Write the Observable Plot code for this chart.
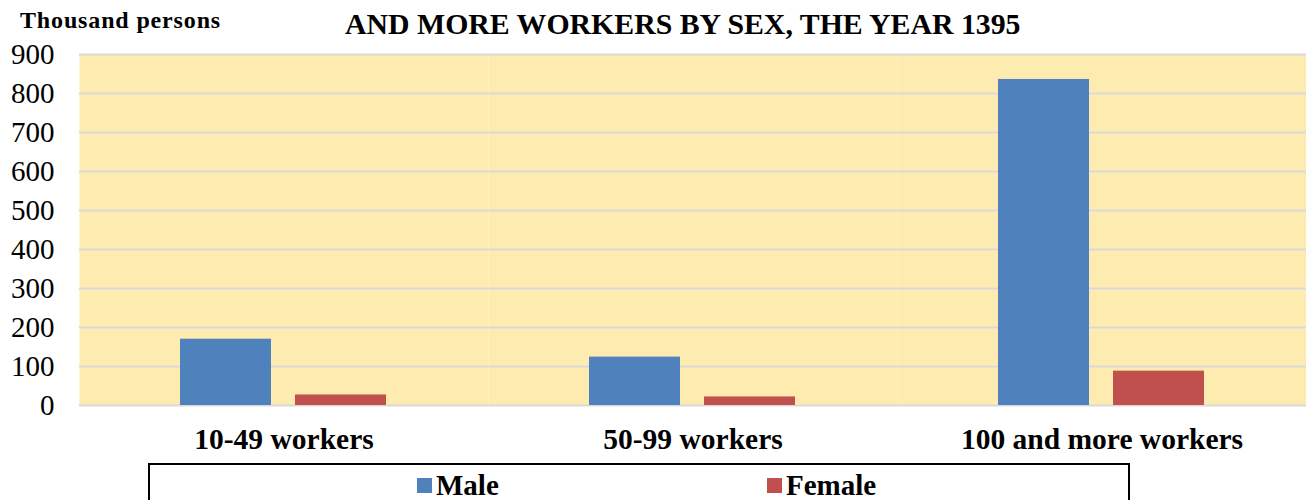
<!DOCTYPE html>
<html>
<head>
<meta charset="utf-8">
<script src="https://cdn.jsdelivr.net/npm/d3@7"></script>
<script src="https://cdn.jsdelivr.net/npm/@observablehq/plot@0.6"></script>
<style>
  html, body { margin: 0; padding: 0; background: #fff; width: 1306px; height: 500px; overflow: hidden; }
  body { font-family: "Liberation Serif", "Times New Roman", serif; color: #000; }
  #header { position: relative; height: 38px; }
  #unit { position: absolute; left: 20px; top: 7px; font-size: 24px; font-weight: bold; letter-spacing: 0.85px; white-space: nowrap; }
  #title { position: absolute; left: 345px; top: 7px; font-size: 29.8px; font-weight: bold; white-space: nowrap; }
  #chart svg { display: block; }
  #legend { position: absolute; left: 148px; top: 463px; width: 982px; height: 60px; border: 2px solid #000; box-sizing: border-box; }
  .item { position: absolute; top: 4px; display: flex; align-items: center; font-size: 29px; font-weight: bold; }
  .sw { width: 15px; height: 15px; margin-right: 4px; }
</style>
</head>
<body>
<div id="header">
  <div id="unit">Thousand persons</div>
  <div id="title">AND MORE WORKERS BY SEX, THE YEAR 1395</div>
</div>
<div id="chart"></div>
<div id="legend"></div>
<script>
const categories = ["10-49 workers", "50-99 workers", "100 and more workers"];
const sexes = ["Male", "Female"];
const male = [170, 124, 836];
const female = [27, 22, 88];
const yTicks = [0, 100, 200, 300, 400, 500, 600, 700, 800, 900];
const colors = ["#4F81BD", "#C0504D"];
const serif = "Liberation Serif";

const data = categories.flatMap((c, i) => [
  {category: c, sex: "Male", value: male[i]},
  {category: c, sex: "Female", value: female[i]}
]);

const chart = Plot.plot({
  width: 1306,
  height: 420,
  marginLeft: 78,
  marginRight: 0,
  marginTop: 16,
  marginBottom: 53,
  style: {background: "transparent", color: "#000"},
  fx: {domain: categories, padding: 0, label: null},
  x: {domain: sexes, paddingInner: 0.207, paddingOuter: 0.868, axis: null},
  y: {domain: [0, 900], axis: null},
  color: {domain: sexes, range: colors},
  marks: [
    Plot.frame({fill: "#FEEBB0", stroke: null}),
    Plot.ruleY(yTicks, {stroke: "#D9D9D9", strokeWidth: 2, strokeOpacity: 1}),
    Plot.barY(data, {fx: "category", x: "sex", y: "value", fill: "sex"}),
    Plot.axisY({ticks: yTicks, tickSize: 0, tickPadding: 25, fontSize: 29, fontFamily: serif, label: null, fill: "#000"}),
    Plot.axisFx({anchor: "bottom", tickSize: 0, tickPadding: 23, fontSize: 29.5, fontFamily: serif, fontWeight: "bold", label: null, fill: "#000"})
  ]
});
d3.select(chart).selectAll("text").style("font-family", "'Liberation Serif', 'Times New Roman', serif");
document.getElementById("chart").appendChild(chart);

const legend = document.getElementById("legend");
const offsets = [267, 617];
sexes.forEach((s, i) => {
  const it = document.createElement("div");
  it.className = "item";
  it.style.left = offsets[i] + "px";
  const sw = document.createElement("span");
  sw.className = "sw";
  sw.style.background = colors[i];
  const t = document.createElement("span");
  t.textContent = s;
  it.appendChild(sw);
  it.appendChild(t);
  legend.appendChild(it);
});
</script>
</body>
</html>
